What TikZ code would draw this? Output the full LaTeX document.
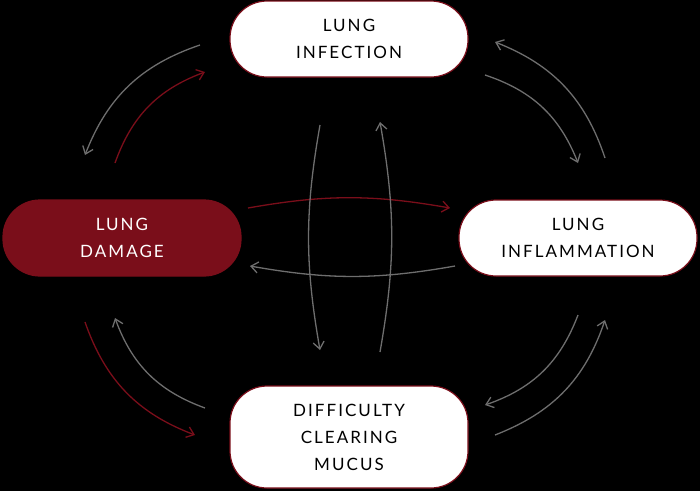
\documentclass[tikz,border=0pt]{standalone}
\usepackage{fontspec}
\setmainfont{Lato}[LetterSpace=12]
\usetikzlibrary{arrows.meta}
\definecolor{dred}{HTML}{7A0E1A}
\definecolor{gr}{HTML}{6E6E6E}
\tikzset{
 box/.style={draw=dred,line width=1.2pt,rounded corners=37pt,minimum width=238pt,minimum height=76pt,align=center,font=\fontsize{17}{27}\selectfont,text=black,fill=white},
 ga/.style={draw=gr,line width=1.3pt,-{Straight Barb[length=7pt,width=11pt]}},
 ra/.style={ga,draw=dred},
}
\begin{document}
\begin{tikzpicture}[x=1pt,y=-1pt]
\fill[black] (0,0) rectangle (700,491);
\useasboundingbox (0,0) rectangle (700,491);
\node[box] (inf) at (349,39) {LUNG\\INFECTION};
\node[box] (infl) at (578,238) {LUNG\\INFLAMMATION};
\node[box,fill=dred,text=white] (dam) at (122,238) {LUNG\\DAMAGE};
\node[box,minimum height=102pt] (muc) at (349,437) {DIFFICULTY\\CLEARING\\MUCUS};
\foreach \n/\x/\y in {a1/200/45,a2/85/155,b1/115/163,b2/205/72,c1/485/75,c2/578/163,d1/605/158,d2/495/42,
 e1/248/208,e2/450/208,f1/455/266,f2/250/266,g1/320/125,g2/320/350,h1/380/352,h2/380/122,
 i1/85/322,i2/195/435,j1/205/408,j2/115/318,k1/578/315,k2/485/405,l1/495/435,l2/605/320}
 \coordinate (\n) at (\x,\y);
\draw[ga] (a1) to[bend right=25] (a2);
\draw[ra] (b1) to[bend left=25] (b2);
\draw[ga] (c1) to[bend left=25] (c2);
\draw[ga] (d1) to[bend right=25] (d2);
\draw[ra] (e1) to[bend left=10] (e2);
\draw[ga] (f1) to[bend left=10] (f2);
\draw[ga] (g1) to[bend right=10] (g2);
\draw[ga] (h1) to[bend right=10] (h2);
\draw[ra] (i1) to[bend right=25] (i2);
\draw[ga] (j1) to[bend left=25] (j2);
\draw[ga] (k1) to[bend left=25] (k2);
\draw[ga] (l1) to[bend right=25] (l2);
\end{tikzpicture}
\end{document}
